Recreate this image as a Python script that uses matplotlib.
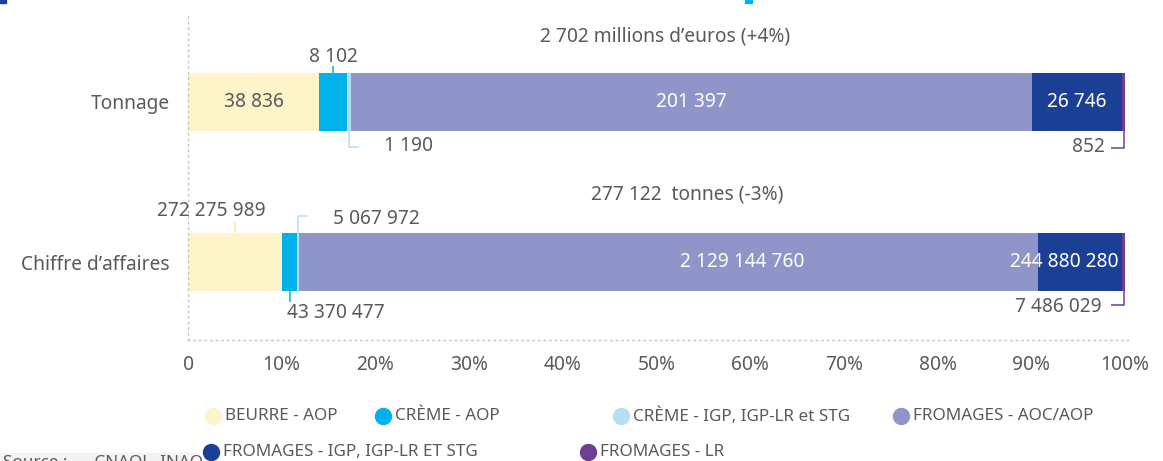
import numpy as np
import matplotlib
matplotlib.use("Agg")
import matplotlib.pyplot as plt
from matplotlib.lines import Line2D
from matplotlib.patches import Rectangle

# data
categories = ["Tonnage", "Chiffre d’affaires"]
series = ["BEURRE - AOP", "CRÈME - AOP", "CRÈME - IGP, IGP-LR et STG",
          "FROMAGES - AOC/AOP", "FROMAGES - IGP, IGP-LR ET STG", "FROMAGES - LR"]
tonnage = [38836, 8102, 1190, 201397, 26746, 852]
chiffre = [272275989, 43370477, 5067972, 2129144760, 244880280, 7486029]
totals_txt = ["2 702 millions d’euros (+4%)", "277 122  tonnes (-3%)"]
tick_vals = [0, 10, 20, 30, 40, 50, 60, 70, 80, 90, 100]
tick_labels = ["0", "10%", "20%", "30%", "40%", "50%", "60%", "70%", "80%", "90%", "100%"]

colors = ["#fef4c9", "#00b1ea", "#b7def6", "#8f95c9", "#1b3f94", "#6d3f8e"]
line_colors = ["#fbeaa8", "#00b1ea", "#b7def6", "#8f95c9", "#1b3f94", "#6d3f8e"]
GREY = "#5a5a5a"
FS = 13.8
LFS = 12.3
plt.rcParams["font.family"] = ["Noto Sans", "DejaVu Sans"]

W, Hpx = 1163, 461
fig = plt.figure(figsize=(W / 100, Hpx / 100), dpi=100)
ax = fig.add_axes([188 / W, 1 - 340 / Hpx, (1130 - 188) / W, (340 - 15) / Hpx])

PX = 100 / 937   # one pixel in x data units
PY = 1 / 160     # one pixel in y data units
BH = 58 / 160

def fmt(v):
    return f"{v:,}".replace(",", " ")

rows = [tonnage, chiffre]
for r, vals in enumerate(rows):
    vals = np.array(vals, dtype=float)
    pct = vals / vals.sum() * 100
    lefts = np.concatenate([[0], np.cumsum(pct)[:-1]])
    ax.barh([r] * len(pct), pct, left=lefts, height=BH, color=colors, linewidth=0)

    top, bot = r - BH / 2, r + BH / 2
    cen = lefts + pct / 2
    ends = lefts + pct
    labs = [fmt(int(v)) for v in vals]

    def line(pts, i):
        xs, ys = zip(*pts)
        ax.plot(xs, ys, color=line_colors[i], lw=1.1, clip_on=False, solid_capstyle="butt")

    def txt(x, y, s, ha="center", color=GREY):
        ax.text(x, y, s, ha=ha, va="center", fontsize=FS, color=color, clip_on=False)

    if r == 0:
        txt(cen[0], r, labs[0])
        c = cen[1]
        line([(c, top), (c, top - 7 * PY)], 1)
        txt(c, top - 16 * PY, labs[1])
        c = cen[2]
        line([(c, bot), (c, bot + 16 * PY), (c + 10 * PX, bot + 16 * PY)], 2)
        txt(c + 35 * PX, bot + 15 * PY, labs[2], ha="left")
        txt(cen[3], r, labs[3], color="white")
        txt(cen[4], r, labs[4], color="white")
        c = ends[5] - 0.1
        line([(c, bot), (c, bot + 17 * PY), (c - 13 * PX, bot + 17 * PY)], 5)
        txt(c - 19 * PX, bot + 16 * PY, labs[5], ha="right")
    else:
        c = cen[0]
        line([(c, top), (c, top - 11 * PY)], 0)
        txt(c + 30 * PX, top - 22 * PY, labs[0], ha="right")
        c = cen[1]
        line([(c, bot), (c, bot + 11 * PY)], 1)
        txt(c - 3 * PX, bot + 22 * PY, labs[1], ha="left")
        c = cen[2]
        line([(c, top), (c, top - 17 * PY), (c + 10 * PX, top - 17 * PY)], 2)
        txt(c + 35 * PX, top - 14 * PY, labs[2], ha="left")
        txt(cen[3] + 74 * PX, r, labs[3], color="white")
        txt(ends[4] - 4 * PX, r, labs[4], ha="right", color="white")
        c = ends[5] - 0.1
        line([(c, bot), (c, bot + 14 * PY), (c - 13 * PX, bot + 14 * PY)], 5)
        txt(c - 22 * PX, bot + 16 * PY, labs[5], ha="right")

# totals above each bar
ax.text(50.9, -0.41, totals_txt[0], ha="center", va="center", fontsize=FS, color=GREY)
ax.text(53.3, 0.58, totals_txt[1], ha="center", va="center", fontsize=FS, color=GREY)

ax.set_xlim(0, 100.53)
ax.set_ylim(1.4875, -0.54375)
ax.set_xticks(tick_vals)
ax.set_xticklabels(tick_labels)
ax.set_yticks(range(len(categories)))
ax.set_yticklabels(categories)
ax.tick_params(axis="x", length=0, pad=11, labelsize=FS, labelcolor=GREY)
ax.tick_params(axis="y", length=0, pad=13, labelsize=FS, labelcolor=GREY)
for s in ["top", "right"]:
    ax.spines[s].set_visible(False)
for s in ["left", "bottom"]:
    ax.spines[s].set_linestyle((0, (1, 3)))
    ax.spines[s].set_color("#c4c4c4")
    ax.spines[s].set_linewidth(1)

# legend, laid out in two rows like the original
leg_rows = [[0, 1, 2, 3], [4, 5]]
leg_x = [[213, 383, 621, 901], [211, 588]]
leg_y = [416, 452]
for row, xs, y in zip(leg_rows, leg_x, leg_y):
    for i, x in zip(row, xs):
        fig.add_artist(Line2D([x / W], [1 - y / Hpx], marker="o", markersize=11.5,
                              color=colors[i], ls="", transform=fig.transFigure))
        fig.text((x + 12) / W, 1 - y / Hpx, series[i], ha="left", va="center",
                 fontsize=LFS, color=GREY)

# cut-off bits at the edges of the original screenshot
fig.add_artist(Rectangle((0, 1 - 3 / Hpx), 6 / W, 3 / Hpx, color="#1b3f94",
                         transform=fig.transFigure))
fig.add_artist(Rectangle((745 / W, 1 - 3 / Hpx), 7 / W, 3 / Hpx, color="#00b1ea",
                         transform=fig.transFigure))
fig.add_artist(Rectangle((0, 0), 193 / W, 8 / Hpx, color="#f2f4f3",
                         transform=fig.transFigure))
fig.text(3 / W, 1 - 455 / Hpx, "Source :      CNAOL, INAO", ha="left", va="top",
         fontsize=LFS, color=GREY)

fig.savefig("out.png", dpi=100)
